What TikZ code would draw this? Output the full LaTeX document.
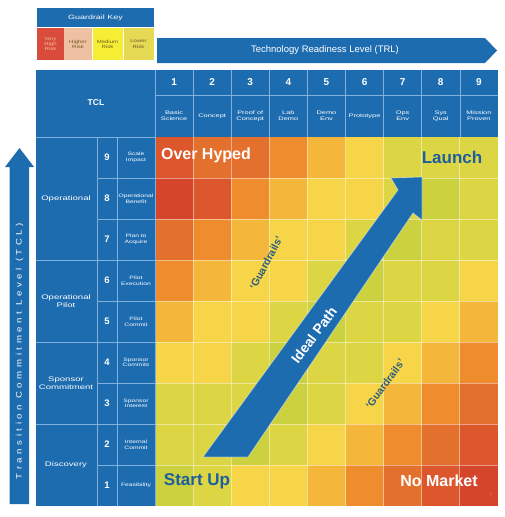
\documentclass[tikz,border=0pt]{standalone}
\usepackage{fontspec}
\setmainfont{Liberation Sans}
\definecolor{hdr}{HTML}{1E6CB0}
\definecolor{hln}{HTML}{7FB0DE}
\definecolor{cR}{HTML}{D4452B}
\definecolor{cRO}{HTML}{DC582C}
\definecolor{cOR}{HTML}{E4702D}
\definecolor{cO}{HTML}{EE8C2E}
\definecolor{cYO}{HTML}{F4B63B}
\definecolor{cY}{HTML}{F7D548}
\definecolor{cYG}{HTML}{DDD644}
\definecolor{cG}{HTML}{CBD13F}
\definecolor{txtblue}{HTML}{1D5E9E}
\definecolor{guard}{HTML}{2C5F7E}
\definecolor{kRed}{HTML}{D94B3A}
\definecolor{kPeach}{HTML}{EFC1A2}
\definecolor{kYel}{HTML}{F6EE35}
\definecolor{kKhaki}{HTML}{E6DA55}
\definecolor{ktxt}{HTML}{6E5A22}
\begin{document}
\begin{tikzpicture}[x=1pt,y=-1pt,
  keybox/.style={minimum height=32pt,inner sep=0pt,align=center,font=\fontsize{4.6}{5.2}\selectfont\addfontfeature{FakeStretch=1.3},text=ktxt},
  colnum/.style={inner sep=0pt,font=\bfseries\fontsize{10}{10}\selectfont,text=white},
  collab/.style={inner sep=0pt,align=center,font=\fontsize{5.1}{6}\selectfont\addfontfeature{FakeStretch=1.45},text=white},
  rowlab/.style={inner sep=0pt,align=center,font=\fontsize{4.8}{5.6}\selectfont\addfontfeature{FakeStretch=1.4},text=white},
  grplab/.style={inner sep=0pt,align=center,font=\fontsize{6.6}{7.6}\selectfont\addfontfeature{FakeStretch=1.45},text=white},
  bigtxt/.style={inner sep=0pt,font=\bfseries\fontsize{16}{16}\selectfont},
  guardtxt/.style={inner sep=0pt,font=\bfseries\fontsize{10.5}{11}\selectfont,text=guard},
  gridln/.style={hln,line width=0.6pt}]
\useasboundingbox (0,0) rectangle (505,517);
\fill[white] (0,0) rectangle (505,517);

% ---- Guardrail key ----
\node[fill=hdr,minimum width=117pt,minimum height=19pt,inner sep=0pt,
      font=\fontsize{6.2}{7}\selectfont\addfontfeature{FakeStretch=1.45},text=white] (keyhead) at (95.5,17.5) {Guardrail Key};
\node[keybox,fill=kRed,minimum width=27pt,text=kPeach] (kred) at (50.5,44) {Very\\High\\Risk};
\node[keybox,fill=kPeach,minimum width=28pt] (kpeach) at (78,44) {Higher\\Risk};
\node[keybox,fill=kYel,minimum width=30pt] (kyel) at (107.5,44) {Medium\\Risk};
\node[keybox,fill=kKhaki,minimum width=30pt] (kkhaki) at (138.5,44) {Lower\\Risk};

% ---- TRL arrow ----
\fill[hdr] (157,38) -- (485,38) -- (497,50.5) -- (485,63) -- (157,63) -- cycle;
\node[inner sep=0pt,font=\fontsize{9.5}{10}\selectfont,text=white] (trl) at (325,50.5) {Technology Readiness Level (TRL)};

% ---- TCL arrow ----
\fill[hdr] (9.5,504) -- (9.5,167) -- (5,167) -- (19.5,148) -- (34,167) -- (29,167) -- (29,504) -- cycle;
\node[inner sep=0pt,rotate=90,font=\fontsize{8}{8}\selectfont\addfontfeature{LetterSpace=45,FakeStretch=1.2},text=white] (tcl) at (19.5,351) {Transition Commitment Level (TCL)};

% ---- table backgrounds ----
\fill[hdr] (36,70) rectangle (498,137);
\fill[hdr] (36,137) rectangle (155,506);

% ---- heat map cells ----
\foreach \rowc [count=\ri] in {
  {cRO,cOR,cOR,cO,cYO,cY,cYG,cYG,cYG},
  {cR,cRO,cO,cYO,cY,cY,cYG,cG,cYG},
  {cOR,cO,cYO,cY,cY,cYG,cG,cYG,cYG},
  {cO,cYO,cY,cY,cYG,cG,cYG,cYG,cY},
  {cYO,cY,cY,cYG,cG,cYG,cYG,cY,cYO},
  {cY,cY,cYG,cG,cYG,cYG,cY,cYO,cO},
  {cYG,cYG,cYG,cG,cYG,cY,cYO,cO,cOR},
  {cYG,cYG,cG,cYG,cY,cYO,cO,cOR,cRO},
  {cG,cYG,cY,cY,cYO,cO,cOR,cRO,cR}}{
  \foreach \cc [count=\ci] in \rowc {
    \fill[\cc] ({155+38.1*(\ci-1)},{137+41*(\ri-1)}) rectangle ++(38.1,41);
  }
}
\foreach \i in {1,...,8}{
  \draw[white,opacity=0.45,line width=0.8pt] ({155+38.1*\i},137) -- ({155+38.1*\i},506);
  \draw[white,opacity=0.45,line width=0.8pt] (155,{137+41*\i}) -- (498,{137+41*\i});
}

% ---- header grid ----
\draw[gridln] (155,95) -- (498,95);
\foreach \i in {1,...,8}{ \draw[gridln] ({155+38.1*\i},70) -- ({155+38.1*\i},137); }
\draw[gridln] (155,70) -- (155,506);
\draw[gridln] (36,137) -- (155,137);
\draw[gridln] (97,137) -- (97,506);
\draw[gridln] (117,137) -- (117,506);
\foreach \i in {3,5,7}{ \draw[gridln] (36,{137+41*\i}) -- (155,{137+41*\i}); }
\foreach \i in {1,2,4,6,8}{ \draw[gridln] (97,{137+41*\i}) -- (155,{137+41*\i}); }

% ---- header texts ----
\node[inner sep=0pt,font=\bfseries\fontsize{8.5}{8.5}\selectfont,text=white] (tclhead) at (96,103) {TCL};
\foreach \lab [count=\i] in {{Basic\\Science},Concept,{Proof of\\Concept},{Lab\\Demo},{Demo\\Env},Prototype,{Ops\\Env},{Sys\\Qual},{Mission\\Proven}}{
  \node[colnum] (cn\i) at ({155+38.1*(\i-0.5)},82.5) {\i};
  \node[collab] (cl\i) at ({155+38.1*(\i-0.5)},116) {\lab};
}
\foreach \lab [count=\i] in {{Scale\\Impact},{Operational\\Benefit},{Plan to\\Acquire},{Pilot\\Execution},{Pilot\\Commit},{Sponsor\\Commits},{Sponsor\\Interest},{Internal\\Commit},Feasibility}{
  \pgfmathtruncatemacro{\n}{10-\i}
  \node[colnum,font=\bfseries\fontsize{9.5}{9.5}\selectfont] (rn\n) at (107,{137+41*(\i-0.5)}) {\n};
  \node[rowlab] (rl\n) at (136,{137+41*(\i-0.5)}) {\lab};
}
\node[grplab] (gop) at (66,198.5) {Operational};
\node[grplab] (gpilot) at (66,301) {Operational\\Pilot};
\node[grplab] (gspon) at (66,383) {Sponsor\\Commitment};
\node[grplab] (gdisc) at (66,465) {Discovery};

% ---- ideal path arrow ----
\fill[hdr,draw=white,draw opacity=0.45,line width=0.8pt] (203,457) -- (398,190) -- (391,178) -- (422,177) -- (422,220) -- (413,213) -- (248,457) -- cycle;
\node[inner sep=0pt,rotate=53,font=\bfseries\fontsize{14}{14}\selectfont,text=white] (ideal) at (314,335) {Ideal Path};

% ---- corner texts ----
\node[bigtxt,text=white] (over) at (206,155) {Over Hyped};
\node[bigtxt,text=txtblue,font=\bfseries\fontsize{17}{17}\selectfont] (launch) at (452,157) {Launch};
\node[bigtxt,text=txtblue,font=\bfseries\fontsize{17}{17}\selectfont] (start) at (197,481) {Start Up};
\node[bigtxt,text=white] (nomarket) at (439,481) {No Market};
\node[guardtxt,rotate=62] (guard1) at (266,263) {‘Guardrails’};
\node[guardtxt,rotate=54] (guard2) at (385,384) {‘Guardrails’};
\node[inner sep=0pt,font=\fontsize{4}{4}\selectfont,text=cO] (pg) at (491,494) {1};
\end{tikzpicture}
\end{document}
